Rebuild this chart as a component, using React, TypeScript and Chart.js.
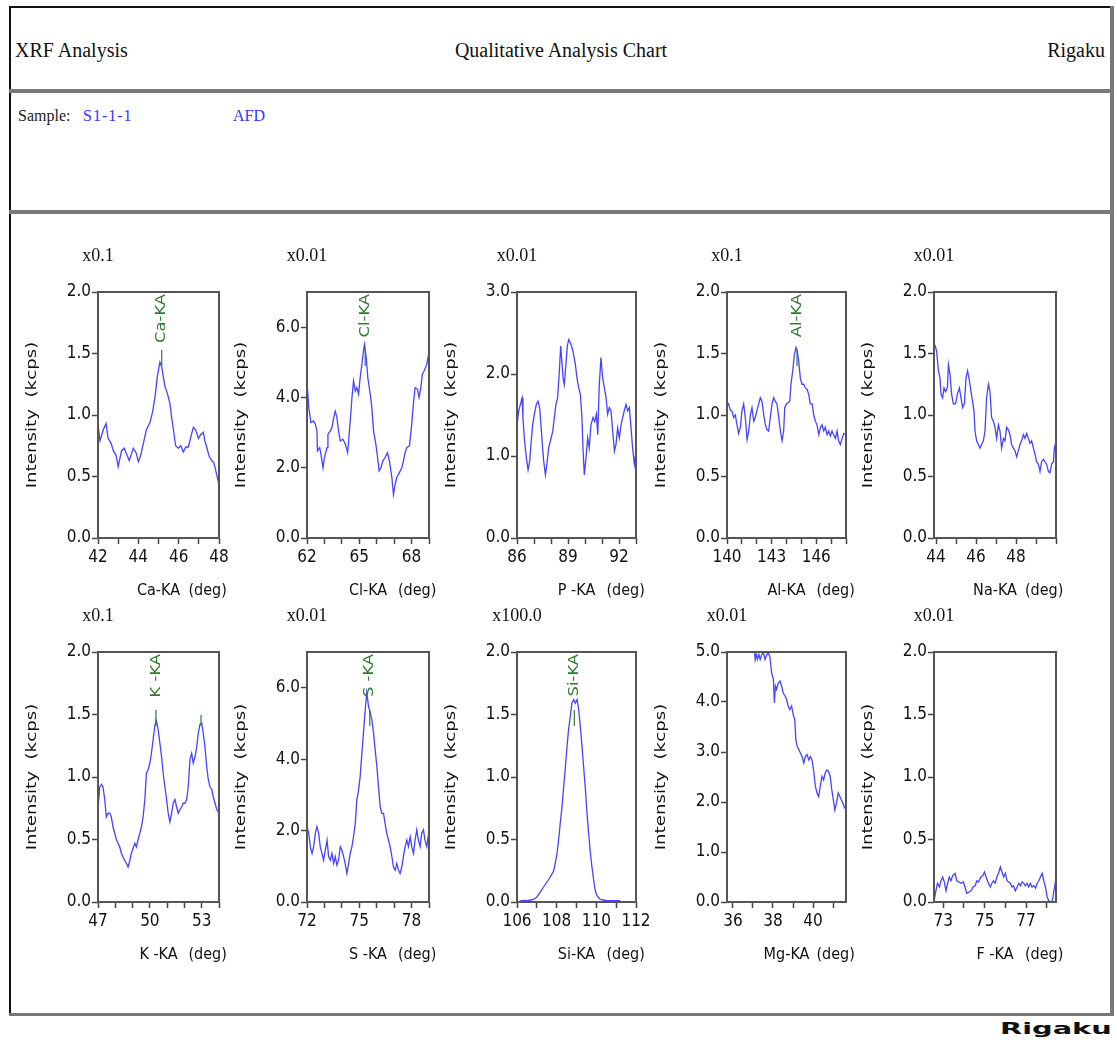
import React, { useEffect, useRef } from "react";
import { Chart, registerables } from "chart.js";

Chart.register(...registerables);

// ---------- data (deg, intensity) ----------
const caKA: [number, number][] = [
  [42.0, 0.92], [42.1, 0.79], [42.26, 0.88], [42.4, 0.93], [42.5, 0.81], [42.65, 0.77], [42.76, 0.71], [42.9, 0.67],
  [43.0, 0.58], [43.17, 0.71], [43.3, 0.73], [43.4, 0.69], [43.55, 0.63], [43.67, 0.69], [43.75, 0.73], [43.9, 0.69],
  [44.0, 0.62], [44.1, 0.66], [44.25, 0.77], [44.4, 0.88], [44.58, 0.94], [44.7, 1.02], [44.83, 1.15], [44.94, 1.31],
  [45.07, 1.43], [45.16, 1.39], [45.24, 1.31], [45.32, 1.23], [45.45, 1.17], [45.57, 1.09], [45.65, 0.98], [45.74, 0.88],
  [45.85, 0.75], [45.98, 0.73], [46.1, 0.75], [46.23, 0.7], [46.36, 0.74], [46.48, 0.74], [46.6, 0.82], [46.73, 0.9],
  [46.84, 0.88], [46.98, 0.81], [47.09, 0.84], [47.22, 0.86], [47.3, 0.79], [47.39, 0.74], [47.52, 0.66], [47.64, 0.63],
  [47.75, 0.61], [47.88, 0.52], [48.0, 0.43],
];

const clKA: [number, number][] = [
  [62.0, 4.47], [62.1, 3.71], [62.23, 3.28], [62.38, 3.33], [62.48, 3.24], [62.57, 3.05], [62.6, 2.48], [62.73, 2.57],
  [62.8, 2.38], [62.92, 2.0], [63.0, 2.29], [63.15, 2.57], [63.2, 2.95], [63.34, 3.05], [63.43, 3.14], [63.53, 3.42],
  [63.62, 3.61], [63.72, 3.42], [63.81, 3.05], [63.91, 2.76], [64.06, 2.81], [64.2, 2.67], [64.33, 2.43], [64.39, 2.76],
  [64.48, 3.33], [64.58, 4.0], [64.67, 4.47], [64.77, 4.18], [64.86, 4.28], [64.96, 4.09], [65.05, 4.56], [65.15, 4.94],
  [65.24, 5.32], [65.3, 5.51], [65.4, 5.13], [65.49, 4.56], [65.63, 4.09], [65.72, 3.71], [65.82, 3.05], [65.95, 2.67],
  [66.05, 2.29], [66.14, 1.91], [66.24, 2.0], [66.35, 2.19], [66.48, 2.29], [66.62, 2.43], [66.73, 2.19], [66.87, 1.72],
  [66.96, 1.24], [67.06, 1.53], [67.15, 1.72], [67.3, 1.86], [67.44, 2.0], [67.53, 2.19], [67.63, 2.43], [67.72, 2.57],
  [67.88, 2.62], [68.01, 3.24], [68.1, 3.8], [68.2, 4.28], [68.34, 4.23], [68.43, 4.0], [68.53, 4.28], [68.62, 4.66],
  [68.72, 4.75], [68.87, 4.94], [68.98, 5.23],
];

const pKA: [number, number][] = [
  [86.0, 1.38], [86.1, 1.55], [86.2, 1.63], [86.3, 1.71], [86.35, 1.47], [86.43, 1.22], [86.55, 0.98], [86.65, 0.83],
  [86.75, 0.94], [86.82, 1.14], [86.92, 1.38], [87.04, 1.53], [87.14, 1.63], [87.24, 1.67], [87.33, 1.59], [87.41, 1.38],
  [87.49, 1.14], [87.57, 0.94], [87.67, 0.77], [87.76, 0.9], [87.86, 1.1], [87.96, 1.18], [88.1, 1.3], [88.2, 1.47],
  [88.29, 1.63], [88.39, 1.71], [88.49, 2.03], [88.57, 2.34], [88.65, 2.12], [88.71, 1.95], [88.78, 1.87], [88.88, 2.12],
  [88.96, 2.34], [89.04, 2.42], [89.14, 2.38], [89.24, 2.32], [89.33, 2.24], [89.43, 2.12], [89.53, 1.95], [89.63, 1.83],
  [89.73, 1.75], [89.82, 1.47], [89.88, 1.1], [89.96, 0.77], [90.06, 0.98], [90.16, 1.22], [90.25, 1.1], [90.35, 1.38],
  [90.47, 1.47], [90.57, 1.42], [90.67, 1.51], [90.75, 1.26], [90.84, 1.87], [90.94, 2.2], [91.04, 1.95], [91.14, 1.83],
  [91.24, 1.71], [91.33, 1.51], [91.43, 1.59], [91.53, 1.55], [91.63, 1.3], [91.73, 1.06], [91.82, 1.14], [91.92, 1.34],
  [92.02, 1.22], [92.12, 1.38], [92.22, 1.47], [92.31, 1.55], [92.41, 1.63], [92.51, 1.55], [92.61, 1.59], [92.71, 1.34],
  [92.8, 1.1], [92.9, 0.9], [93.0, 1.06],
];

const alKA: [number, number][] = [
  [140.0, 1.07], [140.11, 1.09], [140.22, 1.04], [140.34, 1.03], [140.45, 0.98], [140.56, 1.0], [140.67, 0.92], [140.78, 0.85],
  [140.9, 0.9], [141.0, 1.03], [141.12, 1.09], [141.23, 0.98], [141.35, 0.8], [141.46, 0.87], [141.57, 1.0], [141.68, 1.06],
  [141.8, 0.95], [141.9, 0.98], [142.0, 1.03], [142.13, 1.09], [142.24, 1.14], [142.35, 1.11], [142.47, 1.0], [142.58, 0.92],
  [142.69, 0.88], [142.8, 0.87], [142.91, 0.98], [143.03, 1.09], [143.14, 1.14], [143.25, 1.11], [143.36, 1.09], [143.48, 0.98],
  [143.59, 0.87], [143.7, 0.79], [143.81, 0.87], [143.88, 1.06], [143.99, 1.09], [144.1, 1.1], [144.22, 1.11], [144.3, 1.25],
  [144.42, 1.36], [144.53, 1.49], [144.64, 1.55], [144.71, 1.53], [144.82, 1.44], [144.93, 1.3], [145.04, 1.25], [145.16, 1.25],
  [145.27, 1.22], [145.38, 1.21], [145.49, 1.17], [145.6, 1.09], [145.72, 1.09], [145.83, 1.0], [145.94, 0.95], [146.05, 0.92],
  [146.17, 0.84], [146.28, 0.9], [146.39, 0.92], [146.5, 0.87], [146.61, 0.9], [146.73, 0.84], [146.84, 0.87], [146.95, 0.83],
  [147.06, 0.87], [147.17, 0.84], [147.29, 0.81], [147.4, 0.87], [147.5, 0.79], [147.62, 0.76], [147.74, 0.81], [147.85, 0.85],
  [148.0, 0.84],
];

const naKA: [number, number][] = [
  [43.95, 1.57], [44.03, 1.52], [44.12, 1.36], [44.2, 1.3], [44.25, 1.17], [44.33, 1.14], [44.4, 1.22], [44.48, 1.19],
  [44.57, 1.22], [44.62, 1.41], [44.7, 1.33], [44.78, 1.17], [44.87, 1.09], [44.98, 1.09], [45.07, 1.17], [45.17, 1.22],
  [45.25, 1.14], [45.33, 1.06], [45.42, 1.09], [45.5, 1.3], [45.58, 1.36], [45.67, 1.28], [45.75, 1.19], [45.83, 1.11],
  [45.9, 1.03], [45.95, 0.87], [46.03, 0.79], [46.12, 0.76], [46.2, 0.73], [46.28, 0.76], [46.37, 0.79], [46.45, 0.87],
  [46.53, 1.14], [46.62, 1.25], [46.7, 1.19], [46.78, 0.98], [46.87, 0.95], [46.95, 0.9], [47.03, 0.81], [47.12, 0.92],
  [47.2, 0.87], [47.28, 0.73], [47.37, 0.81], [47.45, 0.79], [47.53, 0.9], [47.62, 0.88], [47.7, 0.84], [47.78, 0.76],
  [47.87, 0.73], [47.95, 0.71], [48.03, 0.66], [48.12, 0.71], [48.2, 0.76], [48.28, 0.79], [48.37, 0.84], [48.45, 0.81],
  [48.53, 0.85], [48.62, 0.81], [48.7, 0.77], [48.78, 0.79], [48.87, 0.73], [48.95, 0.68], [49.03, 0.62], [49.12, 0.6],
  [49.2, 0.54], [49.28, 0.62], [49.37, 0.64], [49.45, 0.62], [49.53, 0.6], [49.62, 0.54], [49.7, 0.53], [49.78, 0.6],
  [49.87, 0.62], [49.92, 0.73], [49.95, 0.76],
];

const kKA: [number, number][] = [
  [47.0, 0.74], [47.1, 0.92], [47.2, 0.94], [47.29, 0.92], [47.39, 0.82], [47.48, 0.68], [47.58, 0.71], [47.68, 0.71],
  [47.77, 0.68], [47.87, 0.6], [47.97, 0.55], [48.06, 0.5], [48.16, 0.47], [48.26, 0.44], [48.35, 0.39], [48.45, 0.36],
  [48.55, 0.33], [48.64, 0.31], [48.74, 0.28], [48.84, 0.33], [48.93, 0.39], [49.03, 0.43], [49.13, 0.47], [49.22, 0.44],
  [49.32, 0.5], [49.42, 0.55], [49.51, 0.6], [49.61, 0.68], [49.71, 0.82], [49.8, 1.03], [49.9, 1.06], [50.0, 1.11],
  [50.09, 1.19], [50.19, 1.3], [50.29, 1.41], [50.38, 1.45], [50.48, 1.38], [50.58, 1.27], [50.68, 1.16], [50.77, 1.03],
  [50.87, 0.92], [50.97, 0.82], [51.06, 0.71], [51.16, 0.64], [51.26, 0.71], [51.35, 0.79], [51.45, 0.82], [51.55, 0.76],
  [51.64, 0.71], [51.74, 0.74], [51.84, 0.76], [51.93, 0.79], [52.03, 0.79], [52.13, 0.82], [52.22, 0.92], [52.32, 1.14],
  [52.42, 1.19], [52.51, 1.11], [52.61, 1.16], [52.71, 1.24], [52.8, 1.35], [52.9, 1.42], [53.0, 1.43], [53.09, 1.35],
  [53.19, 1.24], [53.29, 1.08], [53.38, 0.98], [53.48, 0.92], [53.58, 0.9], [53.67, 0.84], [53.77, 0.79], [53.87, 0.74],
  [54.0, 0.71],
];

const sKA: [number, number][] = [
  [72.0, 2.11], [72.1, 1.92], [72.19, 1.55], [72.29, 1.36], [72.38, 1.55], [72.48, 1.92], [72.57, 2.11], [72.67, 1.92],
  [72.76, 1.55], [72.86, 1.36], [72.95, 1.17], [73.05, 1.45], [73.15, 1.73], [73.24, 1.27], [73.34, 1.17], [73.43, 1.36],
  [73.53, 1.08], [73.62, 1.27], [73.72, 1.03], [73.81, 1.17], [73.91, 1.55], [74.0, 1.45], [74.1, 1.27], [74.19, 1.08],
  [74.29, 0.8], [74.39, 1.08], [74.48, 1.36], [74.58, 1.55], [74.67, 1.83], [74.77, 2.2], [74.86, 2.86], [74.96, 3.14],
  [75.05, 3.51], [75.15, 4.17], [75.24, 4.73], [75.34, 5.39], [75.43, 5.86], [75.53, 5.48], [75.63, 5.3], [75.72, 5.11],
  [75.82, 4.73], [75.91, 4.26], [76.01, 3.8], [76.1, 3.23], [76.2, 2.67], [76.29, 2.48], [76.39, 2.48], [76.48, 2.2],
  [76.58, 1.92], [76.68, 1.73], [76.77, 1.55], [76.87, 1.27], [76.96, 0.98], [77.06, 0.89], [77.15, 1.08], [77.25, 0.89],
  [77.34, 0.8], [77.44, 0.98], [77.53, 1.27], [77.63, 1.55], [77.73, 1.73], [77.82, 1.55], [77.92, 1.83], [78.01, 1.55],
  [78.11, 1.36], [78.2, 1.73], [78.3, 2.02], [78.39, 1.73], [78.49, 1.55], [78.58, 1.92], [78.68, 2.02], [78.77, 1.73],
  [78.87, 1.55], [78.98, 1.92],
];

const siKA: [number, number][] = [
  [106.17, 0.01], [106.5, 0.01], [106.84, 0.02], [107.0, 0.04], [107.18, 0.08], [107.34, 0.12], [107.51, 0.16], [107.68, 0.2],
  [107.85, 0.25], [107.93, 0.31], [108.02, 0.39], [108.1, 0.5], [108.18, 0.63], [108.27, 0.76], [108.35, 0.92], [108.44, 1.08],
  [108.52, 1.24], [108.6, 1.38], [108.69, 1.49], [108.77, 1.59], [108.86, 1.62], [108.94, 1.59], [109.03, 1.62], [109.11, 1.54],
  [109.19, 1.41], [109.28, 1.24], [109.36, 1.08], [109.45, 0.9], [109.53, 0.71], [109.61, 0.55], [109.7, 0.39], [109.78, 0.28],
  [109.87, 0.17], [109.95, 0.09], [110.03, 0.05], [110.2, 0.02], [110.54, 0.01], [111.21, 0.01],
];

const mgKA: [number, number][] = [
  [36.95, 5.6], [37.05, 5.15], [37.11, 4.85], [37.16, 4.95], [37.22, 4.85], [37.29, 4.95], [37.36, 4.85], [37.44, 4.95],
  [37.52, 4.99], [37.6, 4.85], [37.69, 4.95], [37.77, 4.99], [37.85, 4.89], [37.93, 4.58], [38.02, 4.45], [38.07, 3.98],
  [38.12, 4.32], [38.18, 4.25], [38.26, 4.38], [38.35, 4.42], [38.43, 4.32], [38.51, 4.18], [38.6, 4.12], [38.68, 4.05],
  [38.76, 3.92], [38.84, 3.85], [38.93, 3.92], [39.01, 3.75], [39.09, 3.65], [39.14, 3.25], [39.21, 3.11], [39.29, 3.05],
  [39.37, 2.98], [39.45, 2.91], [39.54, 2.78], [39.62, 2.91], [39.7, 2.95], [39.79, 2.84], [39.87, 2.91], [39.95, 2.84],
  [40.03, 2.64], [40.12, 2.31], [40.2, 2.18], [40.28, 2.11], [40.36, 2.31], [40.45, 2.51], [40.53, 2.44], [40.61, 2.58],
  [40.69, 2.64], [40.78, 2.61], [40.86, 2.51], [40.94, 2.24], [41.02, 2.04], [41.09, 1.84], [41.17, 1.97], [41.26, 2.18],
  [41.34, 2.11], [41.42, 2.04], [41.5, 1.97], [41.59, 1.87],
];

const fKA: [number, number][] = [
  [72.56, 0.01], [72.64, 0.09], [72.72, 0.15], [72.81, 0.12], [72.89, 0.17], [72.97, 0.2], [73.05, 0.16], [73.13, 0.09],
  [73.21, 0.15], [73.29, 0.2], [73.37, 0.17], [73.45, 0.21], [73.57, 0.23], [73.65, 0.17], [73.76, 0.16], [73.86, 0.15],
  [73.97, 0.16], [74.05, 0.12], [74.13, 0.07], [74.25, 0.08], [74.35, 0.09], [74.43, 0.12], [74.54, 0.13], [74.62, 0.17],
  [74.7, 0.16], [74.82, 0.2], [74.91, 0.21], [74.99, 0.24], [75.07, 0.2], [75.16, 0.16], [75.27, 0.12], [75.35, 0.15],
  [75.43, 0.17], [75.51, 0.15], [75.59, 0.2], [75.67, 0.23], [75.76, 0.28], [75.84, 0.24], [75.92, 0.2], [76.0, 0.23],
  [76.08, 0.17], [76.16, 0.16], [76.24, 0.15], [76.32, 0.12], [76.4, 0.13], [76.48, 0.09], [76.57, 0.12], [76.65, 0.15],
  [76.73, 0.13], [76.81, 0.16], [76.89, 0.15], [76.97, 0.13], [77.05, 0.15], [77.13, 0.12], [77.21, 0.15], [77.29, 0.12],
  [77.38, 0.13], [77.46, 0.11], [77.54, 0.15], [77.62, 0.17], [77.7, 0.2], [77.78, 0.23], [77.86, 0.17], [77.94, 0.12],
  [78.02, 0.04], [78.1, 0.01], [78.19, 0.0], [78.27, 0.01], [78.35, 0.09], [78.43, 0.17],
];

// ---------- axis ticks ----------
const caXTicks = [42, 43, 44, 45, 46, 47, 48];
const caXLabels = [42, 44, 46, 48];
const clXTicks = [62, 63, 64, 65, 66, 67, 68, 69];
const clXLabels = [62, 65, 68];
const pXTicks = [86, 87, 88, 89, 90, 91, 92, 93];
const pXLabels = [86, 89, 92];
const alXTicks = [140, 141, 142, 143, 144, 145, 146, 147, 148];
const alXLabels = [140, 143, 146];
const naXTicks = [44, 45, 46, 47, 48, 49, 50];
const naXLabels = [44, 46, 48];
const kXTicks = [47, 48, 49, 50, 51, 52, 53, 54];
const kXLabels = [47, 50, 53];
const sXTicks = [72, 73, 74, 75, 76, 77, 78, 79];
const sXLabels = [72, 75, 78];
const siXTicks = [106, 107, 108, 109, 110, 111, 112];
const siXLabels = [106, 108, 110, 112];
const mgXTicks = [36, 37, 38, 39, 40, 41];
const mgXLabels = [36, 38, 40];
const fXTicks = [73, 74, 75, 76, 77, 78];
const fXLabels = [73, 75, 77];

const yTicksTwo = [0, 0.5, 1.0, 1.5, 2.0];
const yTicksThree = [0, 1, 2, 3];
const yTicksFive = [0, 1, 2, 3, 4, 5];
const yTicksSeven = [0, 2, 4, 6];

type Peak = { deg: number; text: string };
type PanelDef = {
  name: string;
  mult: string;
  data: [number, number][];
  xMin: number;
  xMax: number;
  xTicks: number[];
  xLabels: number[];
  yMax: number;
  yTicks: number[];
  peaks: Peak[];
};

const panels: PanelDef[] = [
  { name: "Ca-KA", mult: "x0.1", data: caKA, xMin: 42, xMax: 48, xTicks: caXTicks, xLabels: caXLabels, yMax: 2, yTicks: yTicksTwo, peaks: [{ deg: 45.16, text: "Ca-KA" }] },
  { name: "Cl-KA", mult: "x0.01", data: clKA, xMin: 62, xMax: 69, xTicks: clXTicks, xLabels: clXLabels, yMax: 7, yTicks: yTicksSeven, peaks: [{ deg: 65.34, text: "Cl-KA" }] },
  { name: "P -KA", mult: "x0.01", data: pKA, xMin: 86, xMax: 93, xTicks: pXTicks, xLabels: pXLabels, yMax: 3, yTicks: yTicksThree, peaks: [] },
  { name: "Al-KA", mult: "x0.1", data: alKA, xMin: 140, xMax: 148, xTicks: alXTicks, xLabels: alXLabels, yMax: 2, yTicks: yTicksTwo, peaks: [{ deg: 144.71, text: "Al-KA" }] },
  { name: "Na-KA", mult: "x0.01", data: naKA, xMin: 43.9, xMax: 50, xTicks: naXTicks, xLabels: naXLabels, yMax: 2, yTicks: yTicksTwo, peaks: [] },
  { name: "K -KA", mult: "x0.1", data: kKA, xMin: 47, xMax: 54, xTicks: kXTicks, xLabels: kXLabels, yMax: 2, yTicks: yTicksTwo, peaks: [{ deg: 50.35, text: "K -KA" }, { deg: 52.96, text: "" }] },
  { name: "S -KA", mult: "x0.01", data: sKA, xMin: 72, xMax: 79, xTicks: sXTicks, xLabels: sXLabels, yMax: 7, yTicks: yTicksSeven, peaks: [{ deg: 75.6, text: "S -KA" }] },
  { name: "Si-KA", mult: "x100.0", data: siKA, xMin: 106, xMax: 112, xTicks: siXTicks, xLabels: siXLabels, yMax: 2, yTicks: yTicksTwo, peaks: [{ deg: 108.89, text: "Si-KA" }] },
  { name: "Mg-KA", mult: "x0.01", data: mgKA, xMin: 35.7, xMax: 41.65, xTicks: mgXTicks, xLabels: mgXLabels, yMax: 5, yTicks: yTicksFive, peaks: [] },
  { name: "F -KA", mult: "x0.01", data: fKA, xMin: 72.55, xMax: 78.45, xTicks: fXTicks, xLabels: fXLabels, yMax: 2, yTicks: yTicksTwo, peaks: [] },
];

// ---------- layout & styles ----------
const COL_LEFT = [98, 307, 517, 727, 934];
const COL_WIDTH = [121, 122, 119, 119, 122];
const ROW_TOP = [292, 652];
const ROW_HEIGHT = [246, 250];
const PAD_L = 90;
const PAD_T = 50;
const PAD_R = 40;
const PAD_B = 75;

const SANS = "'DejaVu Sans Condensed', 'DejaVu Sans', sans-serif";
const SERIF = "'Liberation Serif', 'DejaVu Serif', serif";
const TEXT = "#111111";
const GREEN = "#2f7a2f";
const LINE_BLUE = "#4444ff";
const FRAME = "#555555";

function drawText(
  ctx: CanvasRenderingContext2D,
  text: string,
  x: number,
  y: number,
  font: string,
  color: string,
  align: CanvasTextAlign,
  baseline: CanvasTextBaseline,
  rotate = 0,
  stretch = 1
) {
  ctx.save();
  ctx.translate(x, y);
  if (rotate) ctx.rotate(rotate);
  ctx.scale(stretch, 1);
  ctx.font = font;
  ctx.fillStyle = color;
  ctx.textAlign = align;
  ctx.textBaseline = baseline;
  ctx.fillText(text, 0, 0);
  ctx.restore();
}

function decorPlugin(def: PanelDef) {
  return {
    id: "panelDecor",
    afterDraw(chart: any) {
      const { ctx, chartArea: a } = chart;
      const xs = chart.scales.x;
      ctx.save();
      ctx.strokeStyle = FRAME;
      ctx.lineWidth = 2;
      ctx.strokeRect(a.left, a.top, a.right - a.left, a.bottom - a.top);
      for (const p of def.peaks) {
        const px = xs.getPixelForValue(p.deg);
        if (p.text) {
          drawText(ctx, p.text, px, a.top + 2, `14px ${SANS}`, GREEN, "right", "middle", -Math.PI / 2, 1.3);
        }
        ctx.strokeStyle = GREEN;
        ctx.lineWidth = 1.2;
        ctx.beginPath();
        ctx.moveTo(px, a.top + (p.text ? 58 : 63));
        ctx.lineTo(px, a.top + 74);
        ctx.stroke();
      }
      drawText(ctx, def.mult, a.left, a.top - 36, `18px ${SERIF}`, TEXT, "center", "middle");
      drawText(ctx, "Intensity  (kcps)", a.left - 66, (a.top + a.bottom) / 2, `14px 'DejaVu Sans', sans-serif`, TEXT, "center", "middle", -Math.PI / 2, 1.3);
      const cx = (a.left + a.right) / 2;
      drawText(ctx, def.name, cx, a.bottom + 53, `16px ${SANS}`, TEXT, "center", "middle");
      drawText(ctx, "(deg)", cx + 30, a.bottom + 53, `16px ${SANS}`, TEXT, "left", "middle");
      ctx.restore();
    },
  };
}

function PanelChart({ def, left, top, width, height }: { def: PanelDef; left: number; top: number; width: number; height: number }) {
  const ref = useRef<HTMLCanvasElement>(null);
  const cw = width + PAD_L + PAD_R;
  const ch = height + PAD_T + PAD_B;
  useEffect(() => {
    const canvas = ref.current;
    if (!canvas) return;
    const tickFont = { family: SANS, size: 17 };
    const chart = new Chart(canvas, {
      type: "line",
      data: {
        datasets: [
          {
            data: def.data.map(([x, y]) => ({ x, y })),
            borderColor: LINE_BLUE,
            borderWidth: 1.3,
            pointRadius: 0,
            tension: 0,
            fill: false,
          },
        ],
      },
      options: {
        animation: false,
        responsive: false,
        devicePixelRatio: 1,
        events: [],
        layout: { padding: { left: 0, top: PAD_T, right: PAD_R, bottom: 0 } },
        plugins: { legend: { display: false }, tooltip: { enabled: false }, title: { display: false } },
        scales: {
          x: {
            type: "linear",
            min: def.xMin,
            max: def.xMax,
            afterFit: (s: any) => {
              s.height = PAD_B;
            },
            afterBuildTicks: (s: any) => {
              s.ticks = def.xTicks.map((v) => ({ value: v }));
            },
            ticks: {
              autoSkip: false,
              maxRotation: 0,
              minRotation: 0,
              padding: 3,
              color: TEXT,
              font: tickFont,
              callback: (v: any) => (def.xLabels.includes(Number(v)) ? String(v) : ""),
            },
            grid: { drawOnChartArea: false, drawTicks: true, tickLength: 6, tickColor: "#444", tickWidth: 1.5, color: "#444" },
            border: { display: false },
          },
          y: {
            type: "linear",
            min: 0,
            max: def.yMax,
            afterFit: (s: any) => {
              s.width = PAD_L;
            },
            afterBuildTicks: (s: any) => {
              s.ticks = def.yTicks.map((v) => ({ value: v }));
            },
            ticks: {
              padding: 1,
              color: TEXT,
              font: tickFont,
              callback: (v: any) => Number(v).toFixed(1),
            },
            grid: { drawOnChartArea: false, drawTicks: true, tickLength: 6, tickColor: "#444", tickWidth: 1.5, color: "#444" },
            border: { display: false },
          },
        },
      },
      plugins: [decorPlugin(def)],
    } as any);
    return () => chart.destroy();
  }, [def]);
  return (
    <canvas
      ref={ref}
      width={cw}
      height={ch}
      style={{ position: "absolute", left: left - PAD_L, top: top - PAD_T, width: cw, height: ch }}
    />
  );
}

const abs = (l: number, t: number, w: number, h: number, bg: string): React.CSSProperties => ({
  position: "absolute",
  left: l,
  top: t,
  width: w,
  height: h,
  background: bg,
});

export default function App() {
  return (
    <div style={{ position: "absolute", left: 0, top: 0, width: 1117, height: 1045, background: "#fff", overflow: "hidden" }}>
      {/* frame */}
      <div style={abs(9, 6, 1104, 2, "#111")} />
      <div style={abs(9, 6, 2, 1010, "#111")} />
      <div style={abs(1110, 6, 4, 1010, "#777")} />
      <div style={abs(9, 89, 1105, 4, "#7a7a7a")} />
      <div style={abs(9, 210, 1105, 4, "#7a7a7a")} />
      <div style={abs(9, 1013, 1105, 3, "#777")} />

      {/* header texts */}
      <div style={{ position: "absolute", left: 15, top: 40, font: `20px ${SERIF}`, lineHeight: "20px", color: "#111", whiteSpace: "nowrap" }}>XRF Analysis</div>
      <div style={{ position: "absolute", left: 561, top: 40, transform: "translateX(-50%)", font: `20px ${SERIF}`, lineHeight: "20px", color: "#111", whiteSpace: "nowrap" }}>
        Qualitative Analysis Chart
      </div>
      <div style={{ position: "absolute", right: 1117 - 1105, top: 40, font: `20px ${SERIF}`, lineHeight: "20px", color: "#111", whiteSpace: "nowrap" }}>Rigaku</div>

      <div style={{ position: "absolute", left: 18, top: 108, font: `16px ${SERIF}`, lineHeight: "16px", color: "#222", whiteSpace: "nowrap" }}>Sample:</div>
      <div style={{ position: "absolute", left: 83, top: 108, font: `16px ${SERIF}`, lineHeight: "16px", color: "#3333ff", whiteSpace: "nowrap", letterSpacing: "1px" }}>S1-1-1</div>
      <div style={{ position: "absolute", left: 233, top: 108, font: `16px ${SERIF}`, lineHeight: "16px", color: "#3333ff", whiteSpace: "nowrap" }}>AFD</div>

      {/* panels */}
      {panels.map((def, i) => {
        const row = Math.floor(i / 5);
        const col = i % 5;
        return (
          <PanelChart
            key={def.name}
            def={def}
            left={COL_LEFT[col]}
            top={ROW_TOP[row]}
            width={COL_WIDTH[col]}
            height={ROW_HEIGHT[row]}
          />
        );
      })}

      {/* logo */}
      <div
        style={{
          position: "absolute",
          left: 1000,
          top: 1021,
          font: `bold 16px 'DejaVu Sans', sans-serif`,
          lineHeight: "16px",
          color: "#111",
          whiteSpace: "nowrap",
          transform: "scaleX(1.8)",
          transformOrigin: "left center",
        }}
      >
        Rigaku
      </div>
    </div>
  );
}
